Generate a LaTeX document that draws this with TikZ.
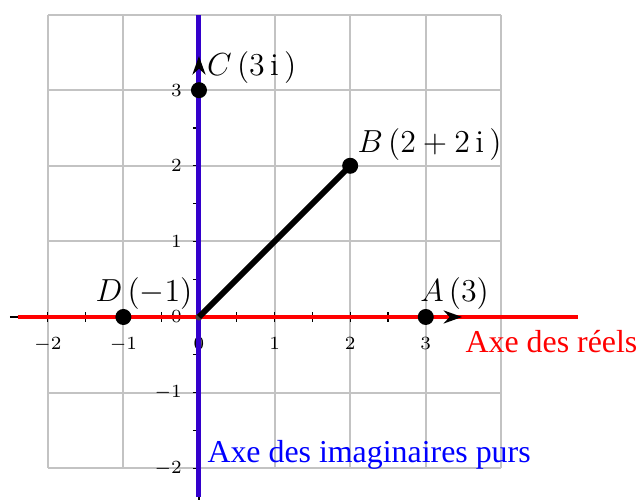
\documentclass[tikz,border=0pt]{standalone}
\usepackage{fontspec}
\newfontfamily\timesfont{Liberation Serif}
\usetikzlibrary{arrows.meta}
\definecolor{gridgray}{RGB}{195,195,195}
\definecolor{imblue}{RGB}{51,0,204}
\definecolor{origgray}{RGB}{68,68,68}
\tikzset{
  gridline/.style={gridgray, line width=0.8pt},
  axisline/.style={black, line width=0.6pt},
  axishead/.style={black, line width=0.6pt, -{Stealth[length=7pt,width=5pt]}},
  ticklabel/.style={font=\fontsize{7}{8}\selectfont, inner sep=0pt},
  ptlabel/.style={font=\fontsize{12}{14}\selectfont, inner sep=0pt, anchor=base west},
  pt/.style={circle, fill=black, minimum size=0.212cm, inner sep=0pt},
  axetext/.style={font=\timesfont\fontsize{12}{14}\selectfont, inner sep=0pt, anchor=base west},
  tickmark/.style={black, line width=0.4pt}
}
\begin{document}
\begin{tikzpicture}
\useasboundingbox (-2.632,-2.421) rectangle (5.794,4.193);
% grid
\draw[gridline] (-2,-2) grid (4,4);
% ticks
\foreach \t in {-2,-1.5,...,3} {
  \draw[tickmark] (\t,-0.06) -- (\t,0.06);
  \draw[tickmark] (-0.08,\t) -- (0,\t);
}
% axes
\coordinate (xs) at (-2.5,0);
\coordinate (xe) at (3.48,0);
\coordinate (xh) at (3.35,0);
\coordinate (ys) at (0,-2.6);
\coordinate (ye) at (0,3.45);
\coordinate (yh) at (0,3.32);
\draw[axisline] (xs) -- (xe);
\draw[axisline] (ys) -- (ye);
% tick labels
\foreach \t/\l in {-2/$-2$,-1/$-1$,0/$0$,1/$1$,2/$2$,3/$3$} {
  \node[ticklabel, anchor=north] (xl\t) at (\t,-0.26) {\l};
  \node[ticklabel, anchor=east] (yl\t) at (-0.22,\t) {\l};
}
% coloured axes
\coordinate (rs) at (-2.4,0);
\coordinate (re) at (5.01,0);
\coordinate (bs) at (0,-2.38);
\coordinate (be) at (0,4.0);
\draw[red, line width=1.7pt] (rs) -- (re);
\draw[imblue, line width=1.9pt] (bs) -- (be);
% arrow heads on top
\draw[axishead] (xh) -- (xe);
\draw[axishead] (yh) -- (ye);
% points
\node[circle, fill=origgray, minimum size=0.095cm, inner sep=0pt] (O) at (0,0) {};
\node[pt] (B) at (2,2) {};
\draw[black, line width=2.2pt] (O.center) -- (B.center);
\node[pt] (A) at (3,0) {};
\node[pt] (C) at (0,3) {};
\node[pt] (D) at (-1,0) {};
% labels
\node[ptlabel] (Al) at (2.92,0.2) {$A\,(3)$};
\node[ptlabel] (Bl) at (2.09,2.17) {$B\,(2+2\,\mathrm{i}\,)$};
\node[ptlabel] (Cl) at (0.1,3.2) {$C\,(3\,\mathrm{i}\,)$};
\node[ptlabel] (Dl) at (-1.375,0.2) {$D\,(-1)$};
\node[axetext, red] (ret) at (3.52,-0.476) {Axe des réels};
\node[axetext, blue] (im) at (0.106,-1.92) {Axe des imaginaires purs};
\end{tikzpicture}
\end{document}
